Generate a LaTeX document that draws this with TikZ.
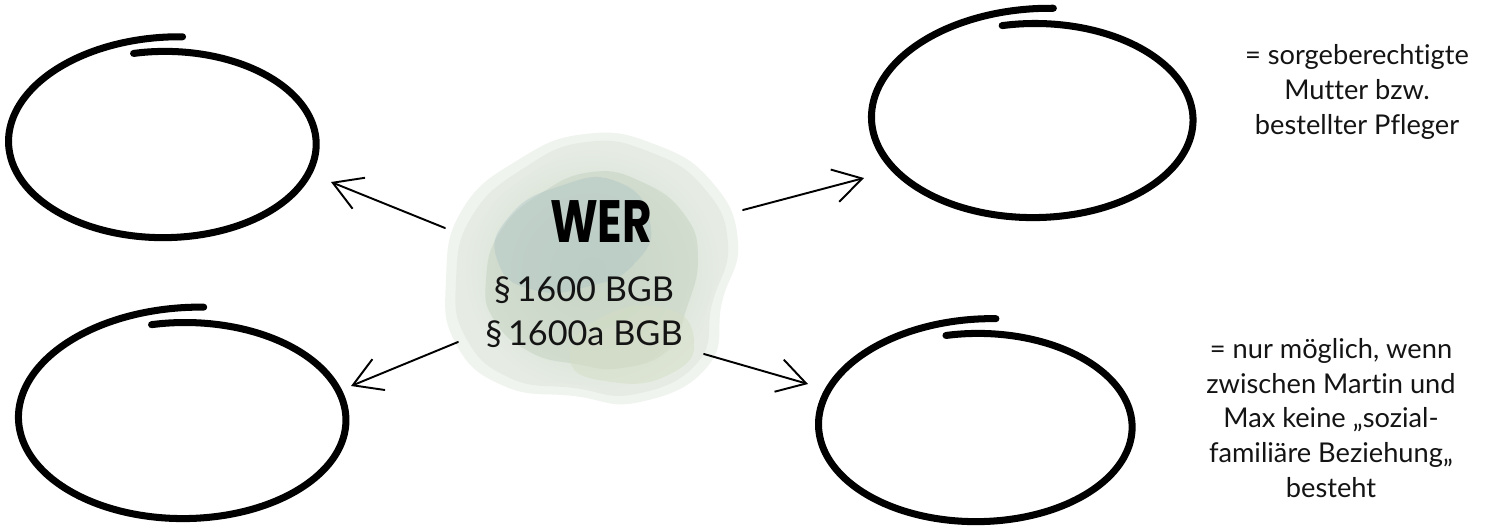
\documentclass[tikz,border=0pt]{standalone}
\usepackage{fontspec}
\usepackage{graphicx}
\setmainfont{Lato}[Ligatures=NoCommon]
\newfontfamily\werfont{Poppins}[BoldFont=* Bold]
\usetikzlibrary{arrows.meta, shapes.geometric}

\definecolor{blobEdge}{RGB}{230,236,228}
\definecolor{blobMid}{RGB}{200,213,197}
\definecolor{blobBlue}{RGB}{170,194,197}
\definecolor{blobSand}{RGB}{212,221,196}

% hand drawn ring: name, cx, cy, rx, ry (pixel units)
\newcommand{\handring}[5]{%
  \node[ellipse, minimum width={#4*0.04cm}, minimum height={#5*0.04cm}] (#1) at (#2,#3) {};
  \draw[ringline] plot[smooth, domain=0:378, samples=110]
    ({#2+#4*(0.975+0.11*(\x/378)^4)*cos(102-\x)}, {#3-#5*(0.975+0.16*(\x/378)^4)*sin(102-\x)});
}

\begin{document}
\begin{tikzpicture}[
         x=0.02cm, y=-0.02cm,
         ringline/.style={line width=4pt, line cap=round, line join=round, black},
         pointer/.style={line width=1.1pt, line cap=round, -{Straight Barb[length=16pt,width=19pt,line width=1.1pt]}},
         note/.style={font=\fontsize{15.5}{19.8}\selectfont, align=center, text=black!92},
         cite/.style={font=\fontsize{19.5}{25}\selectfont, align=center, text=black!92}
      ]
         % canvas
         \fill[white] (0,0) rectangle (1498,529);

         % watercolour blob
         \fill[blobEdge!60!white] plot[smooth cycle, tension=0.8] coordinates {
            (585,134) (654,144) (712,182) (738,242) (722,302) (708,366) (640,402) (574,396)
            (504,386) (456,344) (446,280) (462,210) (518,160)};
         \fill[blobEdge] plot[smooth cycle, tension=0.8] coordinates {
            (586,142) (650,152) (704,188) (728,244) (712,304) (698,362) (636,394) (574,388)
            (510,378) (466,338) (456,280) (472,216) (524,168)};
         \shade[inner color=blobMid, outer color=blobEdge] plot[smooth cycle, tension=0.8] coordinates {
            (590,150) (650,162) (700,200) (720,252) (706,310) (690,362) (630,388) (574,384)
            (516,374) (474,334) (464,282) (480,222) (530,174)};
         \fill[blobMid, opacity=0.6] plot[smooth cycle, tension=0.8] coordinates {
            (592,172) (642,182) (684,214) (698,258) (686,310) (668,350) (622,368) (576,364)
            (530,352) (494,320) (486,280) (500,232) (540,194)};
         \fill[blobBlue, opacity=0.4] plot[smooth cycle, tension=0.9] coordinates {
            (560,186) (618,182) (650,222) (634,264) (590,286) (534,290) (498,262) (508,218)};
         \fill[blobSand, opacity=0.5] plot[smooth cycle, tension=0.9] coordinates {
            (600,318) (664,308) (694,340) (670,374) (612,382) (570,360)};

         % rings
         \handring{ringTL}{165}{144}{155}{95}
         \handring{ringBL}{185}{420}{165}{100}
         \handring{ringTR}{1035}{120}{162}{99}
         \handring{ringBR}{978}{427}{158}{96}

         % centre texts
         \node[font=\werfont\bfseries\fontsize{34}{34}\selectfont] (wer) at (601,222) {\scalebox{0.76}[1]{WER}};
         \node[cite] (bgb) at (584,312) {§\,1600 BGB\\§\,1600a BGB};

         % arrow ends
         \coordinate (tlTail) at (445,228);
         \coordinate (tlHead) at (331,182);
         \coordinate (blTail) at (458,342);
         \coordinate (blHead) at (351,386);
         \coordinate (trTail) at (743,210);
         \coordinate (trHead) at (864,178);
         \coordinate (brTail) at (704,354);
         \coordinate (brHead) at (808,384);

         % arrows
         \draw[pointer] (tlTail) -- (tlHead);
         \draw[pointer] (blTail) -- (blHead);
         \draw[pointer] (trTail) -- (trHead);
         \draw[pointer] (brTail) -- (brHead);

         % side notes
         \node[note] (noteTop) at (1357,92) {= sorgeberechtigte\\Mutter bzw.\\bestellter Pfleger};
         \node[note] (noteBottom) at (1331,418) {= nur möglich, wenn\\zwischen Martin und\\Max keine „sozial-\\familiäre Beziehung„\\besteht};
      \end{tikzpicture}
\end{document}
